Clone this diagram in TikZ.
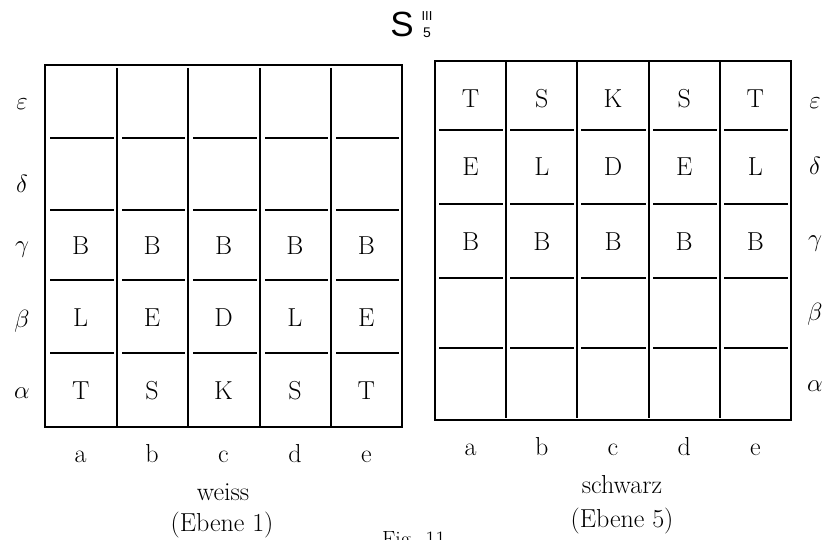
\documentclass[tikz,border=0pt]{standalone}
\usepackage{fontspec}
\newfontfamily\titlefont{Liberation Sans}
\begin{document}
\begin{tikzpicture}[x=1pt,y=-1pt,
  frame/.style={line width=2.6pt},
  vline/.style={line width=1.6pt},
  hline/.style={line width=1.6pt},
  piece/.style={font=\fontsize{26}{30}\selectfont, inner sep=0pt},
  rowlab/.style={font=\fontsize{24}{28}\selectfont, inner sep=0pt},
  collab/.style={font=\fontsize{26}{30}\selectfont, inner sep=0pt, anchor=base},
  caption/.style={font=\fontsize{26}{30}\selectfont, inner sep=0pt, anchor=base}]
\useasboundingbox[fill=white] (0,0) rectangle (831,540);

% title
\node[font=\titlefont\fontsize{35}{40}\selectfont, inner sep=0pt] (title) at (402,24) {S};
\node[font=\titlefont\fontsize{13}{14}\selectfont, inner sep=0pt] (titlesup) at (427,16.5) {III};
\node[font=\titlefont\fontsize{14}{15}\selectfont, inner sep=0pt] (titlesub) at (427,32.5) {5};

% ---------- left board (weiss) ----------
\def\LX{{45,117,188,260,331,402}}
\def\LY{{65,138,210,280,353,427}}
\draw[frame] (45,65) rectangle (402,427);
\foreach \x in {117,188,260,331} \draw[vline] (\x,68) -- (\x,426);
\foreach \y in {138,210,280,353}
  \foreach \a/\b in {45/117,117/188,188/260,260/331,331/402}
    \draw[hline] (\a+5,\y) -- (\b-3,\y);

% ---------- right board (schwarz) ----------
\draw[frame] (435,61) rectangle (791,420);
\foreach \x in {506,577,649,720} \draw[vline] (\x,62) -- (\x,418);
\foreach \y in {130,204,278,348}
  \foreach \a/\b in {435/506,506/577,577/649,649/720,720/791}
    \draw[hline] (\a+4,\y) -- (\b-3,\y);

% pieces left
\foreach \t [count=\i] in {B,B,B,B,B}
  \node[piece] (lg\i) at ({45+71.4*(\i-0.5)},246) {\t};
\foreach \t [count=\i] in {L,E,D,L,E}
  \node[piece] (lb\i) at ({45+71.4*(\i-0.5)},318) {\t};
\foreach \t [count=\i] in {T,S,K,S,T}
  \node[piece] (la\i) at ({45+71.4*(\i-0.5)},391) {\t};

% pieces right
\foreach \t [count=\i] in {T,S,K,S,T}
  \node[piece] (re\i) at ({435+71.2*(\i-0.5)},99) {\t};
\foreach \t [count=\i] in {E,L,D,E,L}
  \node[piece] (rd\i) at ({435+71.2*(\i-0.5)},167) {\t};
\foreach \t [count=\i] in {B,B,B,B,B}
  \node[piece] (rg\i) at ({435+71.2*(\i-0.5)},242) {\t};

% row labels
\node[rowlab] (le) at (22,104) {$\varepsilon$};
\node[rowlab] (ld) at (22,184) {$\delta$};
\node[rowlab] (lc) at (22,250) {$\gamma$};
\node[rowlab] (lbb) at (22,321) {$\beta$};
\node[rowlab] (laa) at (22,393) {$\alpha$};
\node[rowlab] (rle) at (815,103) {$\varepsilon$};
\node[rowlab] (rld) at (815,166) {$\delta$};
\node[rowlab] (rlc) at (815,244) {$\gamma$};
\node[rowlab] (rlb) at (815,314) {$\beta$};
\node[rowlab] (rla) at (815,386) {$\alpha$};

% column labels
\foreach \t [count=\i] in {a,b,c,d,e}
  \node[collab] (lcol\i) at ({45+71.4*(\i-0.5)},462) {\t};
\foreach \t [count=\i] in {a,b,c,d,e}
  \node[collab] (rcol\i) at ({435+71.2*(\i-0.5)},455) {\t};

% captions
\node[caption] (weiss) at (223,500) {weiss};
\node[caption] (ebene1) at (222,531) {(Ebene 1)};
\node[caption] (schwarz) at (622,493) {schwarz};
\node[caption] (ebene5) at (622,527) {(Ebene 5)};

% cut-off figure caption
\node[font=\fontsize{22}{26}\selectfont, inner sep=0pt, anchor=north west] (fig) at (382,531) {Fig. 11.};
\end{tikzpicture}
\end{document}
